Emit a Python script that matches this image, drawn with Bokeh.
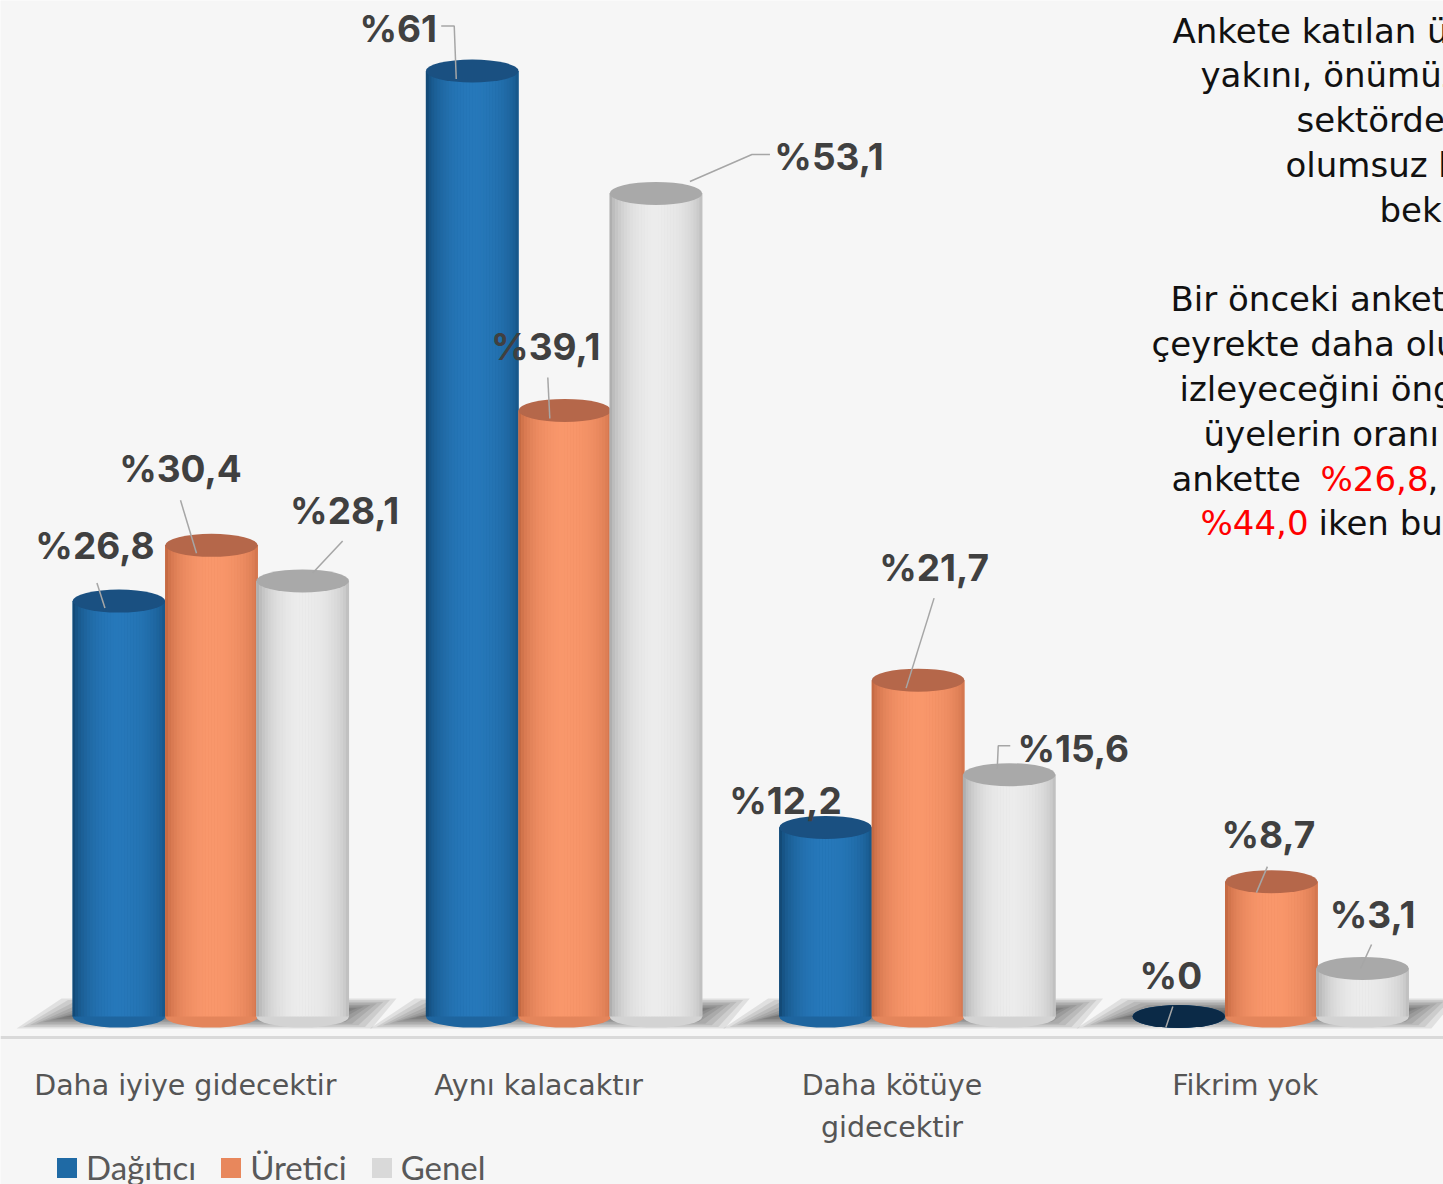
import numpy as np
from bokeh.plotting import figure
from bokeh.models import Range1d, FixedTicker, Label, Legend, LegendItem, ColumnDataSource
from bokeh.core.properties import value
from bokeh.embed import file_html
from bokeh.resources import INLINE

# ---------------- data ----------------
categories = ["Daha iyiye gidecektir", "Aynı kalacaktır", "Daha kötüye gidecektir", "Fikrim yok"]
category_tick_labels = ["Daha iyiye gidecektir", "Aynı kalacaktır", "Daha kötüye\ngidecektir", "Fikrim yok"]
series_names = ["Dağıtıcı", "Üretici", "Genel"]
dagitici = [26.8, 61.0, 12.2, 0.0]
uretici = [30.4, 39.1, 21.7, 8.7]
genel = [28.1, 53.1, 15.6, 3.1]

note_lines_1 = ["Ankete katılan üyelerin", "yakını, önümüzdeki", "sektörde", "olumsuz bir", "beklemiyor."]
note_lines_2 = ["Bir önceki ankette", "çeyrekte daha olumlu", "izleyeceğini öngören", "üyelerin oranı"]
note_line_a = ["ankette ", "%26,8", ", ü"]
note_line_b = ["%44,0", "iken bu"]

# ---------------- layout / style ----------------
W, H = 1443, 1184
PX_X, PX_Y = 353.3, 15.5          # pixels per data unit
X0, Y0 = 211, 1016                # canvas px of data origin
AXIS_PX = 1037                    # canvas px of the category axis line
BW = 0.262                        # bar width (data units)
OFFS = [-0.262, 0.0, 0.258]       # series offsets inside a group
LABEL_SHIFT = -0.074              # category labels a little left (3-D perspective)

PAL = [  # dark edge, light, top ellipse, legend/base
    ("#0c3a60", "#2678ba", "#1a5081", "#1f6aa5"),
    ("#b45a35", "#f9976b", "#b5674a", "#e8875c"),
    ("#9a9a9a", "#ececec", "#a9a9a9", "#d9d9d9"),
]
BG = "#f6f6f6"

# label offsets (screen px, relative to the top of each cylinder) and leader paths
LBL_OFF = [
    [(-24, -56), (-74, -43), (-40, -27), (-8, -41)],
    [(-31, -77), (-19, -64), (16, -113), (-3, -47)],
    [(42, -70), (173, -37), (64, -26), (10, -54)],
]
LEADERS = [
    [[(-22, -18), (-14, 7)], [(-31, -45), (-18, -45), (-16, 8)], None, [(-6, -10), (-13, 11)]],
    [[(-31, -45), (-15, 8)], [(-17, -33), (-15, 8)], [(16, -82), (-12, 8)], [(-4, -15), (-15, 11)]],
    [[(40, -40), (10, -8)], [(114, -39), (96, -39), (34, -12)], [(1, -29), (-11, -29), (-12, -6)], [(9, -24), (-2, 0)]],
]
# floor-shadow outline (screen px from group centre / floor): top-left, top-right, bottom-right, bottom-left
SHADOW = [(-150, -18), (185, -18), (160, 12), (-195, 12)]
SHADOW_LAYERS = 9

x_range = Range1d(-X0 / PX_X, (W - X0) / PX_X)
y_range = Range1d(-(H - Y0) / PX_Y, Y0 / PX_Y)

p = figure(width=W, height=H, x_range=x_range, y_range=y_range,
           output_backend="svg", toolbar_location=None,
           min_border_left=0, min_border_right=0, min_border_top=0, min_border_bottom=0)
p.background_fill_color = BG
p.border_fill_color = BG
p.outline_line_color = None
p.grid.visible = False
p.yaxis.visible = False

xa = p.xaxis[0]
xa.fixed_location = (Y0 - AXIS_PX) / PX_Y
ticks = [i + LABEL_SHIFT for i in range(len(categories))]
xa.ticker = FixedTicker(ticks=ticks)
xa.major_label_overrides = {t: lab for t, lab in zip(ticks, category_tick_labels)}
xa.major_tick_line_color = None
xa.minor_tick_line_color = None
xa.axis_line_color = "#d9d9d9"
xa.axis_line_width = 3
xa.major_label_text_font = "DejaVu Sans"
xa.major_label_text_font_size = "28.5px"
xa.major_label_text_color = "#555555"
xa.major_label_text_line_height = 1.3
xa.major_label_standoff = 25


def px2x(px):
    return (px - X0) / PX_X


def px2y(py):
    return (Y0 - py) / PX_Y


# soft floor shadows under each group (layered sheared quads, darker toward the middle)
sh_xs, sh_ys = [], []
for layer in range(SHADOW_LAYERS):
    ix, iy = layer * 6.5, layer * 1.6
    for g in range(len(categories)):
        xs_, ys_ = [], []
        for k, (dx, dy) in enumerate(SHADOW):
            sgnx = 1 if k in (1, 2) else -1
            sgny = 1 if k in (2, 3) else -1
            xs_.append(g + (dx - sgnx * ix) / PX_X)
            ys_.append(-(dy - sgny * iy) / PX_Y)
        sh_xs.append(xs_)
        sh_ys.append(ys_)
p.patches(xs=sh_xs, ys=sh_ys, fill_color="black", fill_alpha=0.085, line_color=None)

# shading across a cylinder
N = 32
u = (np.arange(N) + 0.5) / N
f = np.sin(np.pi * u) ** 0.45
f = np.where(u > 0.55, 0.3 + 0.7 * f, f)


def mix(c1, c2, t):
    a = np.array([int(c1[i:i + 2], 16) for i in (1, 3, 5)], float)
    b = np.array([int(c2[i:i + 2], 16) for i in (1, 3, 5)], float)
    c = a + (b - a) * t
    return "#%02x%02x%02x" % tuple(int(round(v)) for v in c)


legend_items = []
all_values = [dagitici, uretici, genel]
for s, vals in enumerate(all_values):
    dark, light, top, base = PAL[s]
    xs = np.arange(len(vals)) + OFFS[s]
    base_r = p.vbar(x=xs, top=vals, bottom=0, width=BW, fill_color=base, line_color=None)
    legend_items.append(LegendItem(label=series_names[s], renderers=[base_r]))
    # bottom rim
    p.ellipse(x=xs, y=[0] * len(vals), width=BW, height=22, height_units="screen",
              fill_color=mix(dark, light, 0.7), line_color=None)
    # shaded strips
    sx, st, sc = [], [], []
    cols = [mix(dark, light, t) for t in f]
    for xi, v in zip(xs, vals):
        for k in range(N):
            sx.append(xi + (u[k] - 0.5) * BW)
            st.append(v)
            sc.append(cols[k])
    p.vbar(x=sx, top=st, bottom=0, width=BW / N * 1.08, fill_color=sc, line_color=None)
    # top cap
    p.ellipse(x=xs, y=vals, width=BW, height=23, height_units="screen",
              fill_color=top, line_color=None)

# zero-height cylinder appears as a dark disc
for s, vals in enumerate(all_values):
    xs = np.arange(len(vals)) + OFFS[s]
    zx = [x for x, v in zip(xs, vals) if v == 0]
    if zx:
        p.ellipse(x=zx, y=[0] * len(zx), width=BW, height=23, height_units="screen",
                  fill_color="#0b2a47", line_color=None)

# leader lines and value labels
lx, ly = [], []
tx, ty, tt, tdx, tdy = [], [], [], [], []
for s, vals in enumerate(all_values):
    for g, v in enumerate(vals):
        bx = g + OFFS[s]
        txt = "%" + (("%g" % v) if float(v).is_integer() else ("%.1f" % v).replace(".", ","))
        tx.append(bx); ty.append(v); tt.append(txt)
        tdx.append(LBL_OFF[s][g][0]); tdy.append(LBL_OFF[s][g][1])
        path = LEADERS[s][g]
        if path:
            lx.append([bx + dx / PX_X for dx, dy in path])
            ly.append([v - dy / PX_Y for dx, dy in path])

p.multi_line(xs=lx, ys=ly, line_color="#a6a6a6", line_width=1.5)
src = ColumnDataSource(dict(x=tx, y=ty, text=tt, dx=tdx, dy=tdy))
p.text(x="x", y="y", text="text", x_offset="dx", y_offset="dy", source=src,
       text_font=value("Inter"), text_font_style="bold", text_font_size="37px",
       text_color="#404040", text_align="center", text_baseline="middle")

# right-hand note (clipped by the chart edge, as in the original)
NOTE_FONT = "DejaVu Sans"
NOTE_SIZE = "34px"
NOTE_COLOR = "#111111"
starts_1 = [1172, 1200, 1296, 1285, 1379]
ys_1 = [30, 74, 119, 164, 209]
for txt, sx0, yy in zip(note_lines_1, starts_1, ys_1):
    p.add_layout(Label(x=px2x(sx0), y=px2y(yy), text=txt, text_font=NOTE_FONT,
                       text_font_size=NOTE_SIZE, text_color=NOTE_COLOR, text_baseline="middle"))
starts_2 = [1170, 1151, 1179, 1203]
ys_2 = [298, 343, 388, 433]
for txt, sx0, yy in zip(note_lines_2, starts_2, ys_2):
    p.add_layout(Label(x=px2x(sx0), y=px2y(yy), text=txt, text_font=NOTE_FONT,
                       text_font_size=NOTE_SIZE, text_color=NOTE_COLOR, text_baseline="middle"))
for txt, sx0, col in zip(note_line_a, [1171, 1320, 1427], [NOTE_COLOR, "#ff0000", NOTE_COLOR]):
    p.add_layout(Label(x=px2x(sx0), y=px2y(478), text=txt, text_font=NOTE_FONT,
                       text_font_size=NOTE_SIZE, text_color=col, text_baseline="middle"))
for txt, sx0, col in zip(note_line_b, [1200, 1318], ["#ff0000", NOTE_COLOR]):
    p.add_layout(Label(x=px2x(sx0), y=px2y(522), text=txt, text_font=NOTE_FONT,
                       text_font_size=NOTE_SIZE, text_color=col, text_baseline="middle"))

legend = Legend(items=legend_items, orientation="horizontal", location=(54, -3),
                glyph_width=25, glyph_height=25, label_standoff=7, spacing=22,
                padding=0, margin=0, border_line_color=None, background_fill_alpha=0,
                label_text_font="Lato", label_text_font_size="33px", label_text_color="#595959")
p.add_layout(legend, "center")

open("out.html", "w").write(file_html(p, INLINE))
